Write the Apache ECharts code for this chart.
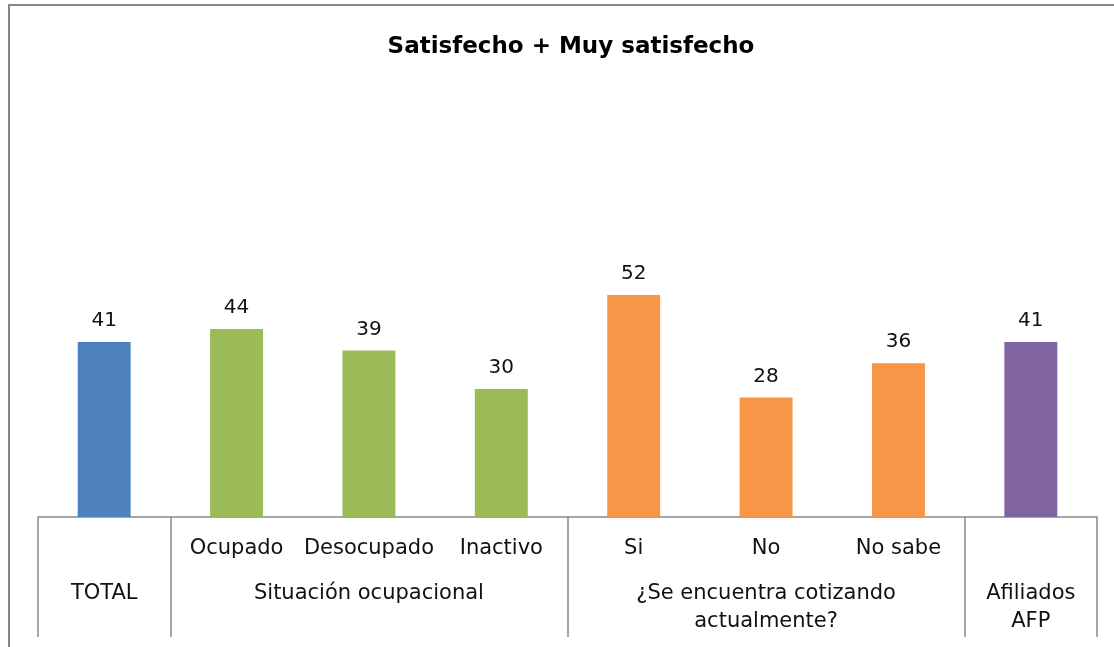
<!DOCTYPE html>
<html>
<head>
<meta charset="utf-8">
<script src="https://cdn.jsdelivr.net/npm/echarts@6/dist/echarts.min.js"></script>
<style>
    html, body {margin: 0; padding: 0; background: #fff;}
    #main {width: 1114px; height: 647px;}
</style>
</head>
<body>
<div id="main"></div>
<script>
var categories = ['', 'Ocupado', 'Desocupado', 'Inactivo', 'Si', 'No', 'No sabe', ''];
var groupLabels = ['TOTAL', '', 'Situación ocupacional', '', '', '¿Se encuentra cotizando\nactualmente?', '', 'Afiliados\nAFP'];
var values = [41, 44, 39, 30, 52, 28, 36, 41];
var barColors = ['#4F81BD', '#9BBB59', '#9BBB59', '#9BBB59', '#F79646', '#F79646', '#F79646', '#8064A2'];
var dividers = [0, 1, 4, 7, 8];

var myChart = echarts.init(document.getElementById('main'));
var font = 'DejaVu Sans';

var option = {
    backgroundColor: '#fff',
    animation: false,
    title: {
        text: 'Satisfecho + Muy satisfecho',
        left: 566,
        textAlign: 'center',
        top: 31,
        textStyle: {
            fontFamily: font,
            fontSize: 23,
            fontWeight: 'bold',
            color: '#000'
        }
    },
    graphic: [
        {
            type: 'polyline',
            silent: true,
            shape: {points: [[9, 647], [9, 5], [1114, 5]]},
            style: {stroke: '#868686', lineWidth: 2, fill: null}
        }
    ],
    grid: {
        left: 38,
        right: 17,
        top: 90,
        bottom: 130
    },
    xAxis: [
        {
            // primer nivel
            type: 'category',
            data: categories,
            position: 'bottom',
            axisLine: {show: false},
            axisTick: {show: false},
            axisLabel: {
                interval: 0,
                margin: 20,
                fontFamily: font,
                fontSize: 21,
                lineHeight: 24,
                color: '#111'
            }
        },
        {
            // segundo nivel
            type: 'category',
            data: groupLabels,
            position: 'bottom',
            axisLine: {show: false},
            axisTick: {show: false},
            axisLabel: {
                interval: 0,
                margin: 63,
                fontFamily: font,
                fontSize: 21,
                lineHeight: 28,
                color: '#111'
            }
        },
        {
            // separadores
            type: 'value',
            min: 0,
            max: 8,
            position: 'bottom',
            axisLine: {show: true, lineStyle: {color: '#898989', width: 1.5}},
            axisTick: {
                show: true,
                length: 120,
                customValues: dividers,
                lineStyle: {color: '#898989', width: 1.5}
            },
            axisLabel: {show: false},
            splitLine: {show: false}
        }
    ],
    yAxis: {
        type: 'value',
        min: 0,
        max: 100,
        show: false
    },
    series: [
        {
            type: 'bar',
            xAxisIndex: 0,
            barWidth: '40%',
            data: values.map(function (v, i) {
                return {value: v, itemStyle: {color: barColors[i]}};
            }),
            label: {
                show: true,
                position: 'top',
                distance: 11,
                fontFamily: font,
                fontSize: 20,
                color: '#111'
            }
        }
    ]
};
myChart.setOption(option);
</script>
</body>
</html>
